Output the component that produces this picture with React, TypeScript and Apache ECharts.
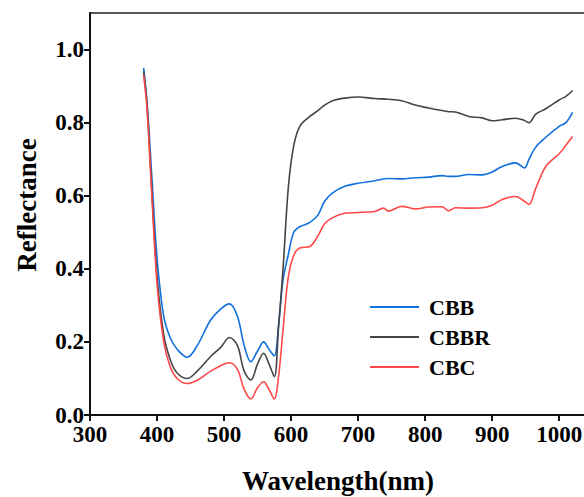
import React, { useEffect, useRef } from "react";
import * as echarts from "echarts";

const seriesNames = ["CBB", "CBBR", "CBC"];
const seriesColors = ["#1070dc", "#444444", "#ff4848"];

const cbbWavelength = [380, 385, 392, 400, 410, 420, 430, 445, 460, 480, 495, 508, 520, 530, 540, 550, 559, 567, 575, 581, 588, 596, 604, 613, 628, 640, 650, 662, 680, 700, 725, 745, 765, 785, 805, 825, 835, 845, 865, 885, 900, 915, 935, 948, 955, 965, 980, 1000, 1010, 1020];
const cbbValues = [0.95, 0.86, 0.66, 0.43, 0.27, 0.21, 0.18, 0.158, 0.19, 0.26, 0.29, 0.304, 0.27, 0.19, 0.146, 0.175, 0.2, 0.18, 0.162, 0.24, 0.37, 0.44, 0.5, 0.515, 0.527, 0.547, 0.585, 0.608, 0.626, 0.634, 0.641, 0.647, 0.646, 0.649, 0.651, 0.655, 0.653, 0.653, 0.658, 0.657, 0.665, 0.68, 0.69, 0.676, 0.7, 0.733, 0.76, 0.79, 0.8, 0.828];

const cbbrWavelength = [380, 385, 392, 400, 410, 420, 430, 445, 460, 480, 495, 508, 520, 530, 540, 550, 559, 567, 575, 581, 588, 596, 604, 613, 628, 640, 650, 662, 680, 700, 725, 745, 765, 785, 805, 825, 835, 845, 865, 885, 900, 915, 935, 948, 955, 965, 980, 1000, 1010, 1020];
const cbbrValues = [0.94, 0.85, 0.62, 0.38, 0.22, 0.15, 0.115, 0.1, 0.12, 0.16, 0.185, 0.212, 0.19, 0.12, 0.096, 0.14, 0.169, 0.14, 0.105, 0.233, 0.4, 0.625, 0.737, 0.79, 0.817, 0.833, 0.848, 0.86, 0.867, 0.87, 0.866, 0.864, 0.86, 0.848, 0.84, 0.833, 0.83, 0.829, 0.817, 0.813, 0.805, 0.808, 0.812, 0.806, 0.8, 0.823, 0.838, 0.862, 0.872, 0.888];

const cbcWavelength = [380, 385, 392, 400, 410, 420, 430, 445, 460, 480, 495, 508, 520, 530, 540, 550, 559, 567, 575, 581, 588, 596, 604, 613, 628, 640, 650, 662, 680, 700, 725, 738, 745, 765, 785, 805, 825, 835, 845, 865, 885, 900, 915, 935, 948, 955, 965, 980, 1000, 1010, 1020];
const cbcValues = [0.93, 0.84, 0.61, 0.36, 0.2, 0.13, 0.1, 0.086, 0.095, 0.12, 0.135, 0.143, 0.125, 0.07, 0.044, 0.075, 0.091, 0.07, 0.044, 0.1, 0.233, 0.38, 0.437, 0.457, 0.461, 0.49, 0.523, 0.54, 0.552, 0.554, 0.557, 0.566, 0.558, 0.571, 0.564, 0.569, 0.57, 0.559, 0.567, 0.566, 0.567, 0.574, 0.59, 0.598, 0.585, 0.576, 0.62, 0.68, 0.715, 0.738, 0.762];

const yTicks = [0, 0.2, 0.4, 0.6, 0.8, 1.0];
const xTicks = [300, 400, 500, 600, 700, 800, 900, 1000];

const font = '"Liberation Serif", "Times New Roman", serif';

function pairs(xs: number[], ys: number[]) {
  return xs.map((x, i) => [x, ys[i]]);
}

export default function App() {
  const ref = useRef<HTMLDivElement>(null);
  useEffect(() => {
    if (!ref.current) return;
    const chart = echarts.init(ref.current, null, { renderer: "svg" });
    const datasets = [
      pairs(cbbWavelength, cbbValues),
      pairs(cbbrWavelength, cbbrValues),
      pairs(cbcWavelength, cbcValues),
    ];
    chart.setOption({
      animation: false,
      grid: {
        left: 90,
        top: 13,
        bottom: 82,
        right: -2,
        containLabel: false,
        outerBoundsMode: "none",
        show: true,
        borderColor: "#222",
        borderWidth: 1.5,
      },
      legend: {
        orient: "vertical",
        left: 370,
        top: 296,
        padding: 0,
        itemWidth: 49,
        itemHeight: 2,
        itemGap: 8,
        icon: "rect",
        data: seriesNames,
        textStyle: {
          fontFamily: font,
          fontWeight: "bold",
          fontSize: 22,
          color: "#000",
          padding: [0, 0, 0, 5],
          lineHeight: 22,
        },
      },
      xAxis: {
        type: "value",
        min: 300,
        max: 1040,
        interval: 100,
        name: "Wavelength(nm)",
        nameLocation: "middle",
        nameGap: 52,
        nameTextStyle: { fontFamily: font, fontWeight: "bold", fontSize: 27, color: "#000" },
        splitLine: { show: false },
        axisLine: { show: true, lineStyle: { color: "#111", width: 2 } },
        axisTick: { show: true, inside: false, length: 6, lineStyle: { color: "#111", width: 2 }, customValues: xTicks },
        axisLabel: {
          fontFamily: font,
          fontWeight: "bold",
          fontSize: 23,
          color: "#000",
          margin: 8,
          customValues: xTicks,
          formatter: (v: number) => String(v),
        },
      },
      yAxis: {
        type: "value",
        min: 0,
        max: 1.1,
        interval: 0.1,
        name: "Reflectance",
        nameLocation: "middle",
        nameGap: 50,
        nameTextStyle: { fontFamily: font, fontWeight: "bold", fontSize: 27, color: "#000", padding: [0, 0, 0, 18] },
        splitLine: { show: false },
        axisLine: { show: true, lineStyle: { color: "#111", width: 2 } },
        axisTick: { show: true, inside: false, length: 6, lineStyle: { color: "#111", width: 2 }, customValues: yTicks },
        axisLabel: {
          fontFamily: font,
          fontWeight: "bold",
          fontSize: 23,
          color: "#000",
          margin: 6,
          customValues: yTicks,
          formatter: (v: number) => v.toFixed(1),
        },
      },
      series: seriesNames.map((name, i) => ({
        name,
        type: "line",
        data: datasets[i],
        smooth: 0.35,
        showSymbol: false,
        symbol: "none",
        lineStyle: { color: seriesColors[i], width: 1.6 },
        itemStyle: { color: seriesColors[i] },
      })),
    });
    return () => chart.dispose();
  }, []);
  return <div ref={ref} style={{ width: 584, height: 497, position: "absolute", left: 0, top: 0 }} />;
}
